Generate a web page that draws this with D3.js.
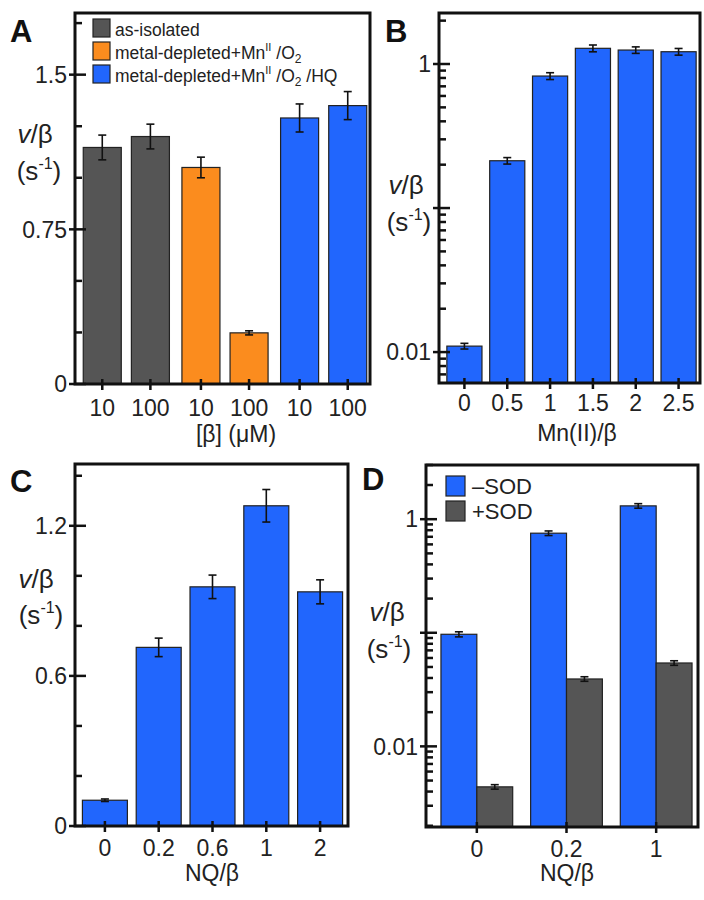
<!DOCTYPE html>
<html><head><meta charset="utf-8">
<script src="https://cdn.jsdelivr.net/npm/d3@7"></script>
<style>body{margin:0;background:#fff;} text{font-family:"Liberation Sans",Arial,Helvetica,sans-serif;fill:#222;}</style>
</head><body><svg id="c" width="704" height="900"></svg>
<script>
// ---------- DATA ----------
const colorGray = "#555555", colorOrange = "#fb8c1e", colorBlue = "#2166fd";

const panelA_groups = ["as-isolated", "metal-depleted+MnII/O2", "metal-depleted+MnII/O2/HQ"];
const panelA_colors = [colorGray, colorOrange, colorBlue];
const panelA_conc = ["10", "100"];
const panelA_values = [[1.147, 1.20], [1.05, 0.248], [1.29, 1.35]];
const panelA_errors = [[0.06, 0.06], [0.05, 0.01], [0.068, 0.068]];
const panelA_majorTicks = [0, 0.75, 1.5];
const panelA_tickLabels = ["0", "0.75", "1.5"];
const panelA_minorTicks = [0.25, 0.5, 1.0, 1.25, 1.75];

const panelB_categories = ["0", "0.5", "1", "1.5", "2", "2.5"];
const panelB_values = [0.011, 0.213, 0.825, 1.285, 1.25, 1.217];
const panelB_errors = [0.0005, 0.011, 0.045, 0.07, 0.065, 0.065];
const panelB_majorTicks = [0.01, 0.1, 1];
const panelB_tickLabels = ["0.01", "", "1"];

const panelC_categories = ["0", "0.2", "0.6", "1", "2"];
const panelC_values = [0.103, 0.714, 0.956, 1.28, 0.936];
const panelC_errors = [0.005, 0.037, 0.047, 0.065, 0.048];
const panelC_majorTicks = [0, 0.6, 1.2];
const panelC_tickLabels = ["0", "0.6", "1.2"];
const panelC_minorTicks = [0.2, 0.4, 0.8, 1.0, 1.4];

const panelD_categories = ["0", "0.2", "1"];
const panelD_series = ["\u2013SOD", "+SOD"];
const panelD_seriesColors = [colorBlue, colorGray];
const panelD_minusSOD = [0.097, 0.753, 1.31];
const panelD_minusSOD_err = [0.005, 0.035, 0.06];
const panelD_plusSOD = [0.0044, 0.0392, 0.0542];
const panelD_plusSOD_err = [0.0002, 0.0018, 0.0025];
const panelD_majorTicks = [0.01, 0.1, 1];
const panelD_tickLabels = ["0.01", "", "1"];

// ---------- HELPERS ----------
const svg = d3.select("#c");
const TICK_FS = "23px";

function logMinor(domain) {
  const out = [];
  const k0 = Math.floor(Math.log10(domain[0])), k1 = Math.ceil(Math.log10(domain[1]));
  for (let k = k0; k <= k1; k++) for (let m = 2; m <= 9; m++) {
    const v = m * Math.pow(10, k);
    if (v >= domain[0] && v <= domain[1]) out.push(v);
  }
  return out;
}

function yAxis(g, y, x0, majors, labels, minors) {
  majors.forEach((v, i) => {
    g.append("line").attr("x1", x0 - 6).attr("x2", x0 + 11).attr("y1", y(v)).attr("y2", y(v))
      .attr("stroke", "#111").attr("stroke-width", 2.5);
    if (labels[i]) g.append("text").attr("x", x0 - 8).attr("y", y(v)).attr("dy", "0.36em")
      .attr("text-anchor", "end").style("font-size", TICK_FS).text(labels[i]);
  });
  minors.forEach(v => {
    g.append("line").attr("x1", x0).attr("x2", x0 + 7).attr("y1", y(v)).attr("y2", y(v))
      .attr("stroke", "#111").attr("stroke-width", 2.5);
  });
}

function xTicks(g, xs, labels, yb, labelY) {
  xs.forEach((cx, i) => {
    g.append("line").attr("x1", cx).attr("x2", cx).attr("y1", yb - 5).attr("y2", yb + 6)
      .attr("stroke", "#111").attr("stroke-width", 2.5);
    g.append("text").attr("x", cx).attr("y", labelY).attr("text-anchor", "middle")
      .style("font-size", TICK_FS).text(labels[i]);
  });
}

function frame(g, x0, y0, x1, y1) {
  g.append("rect").attr("x", x0).attr("y", y0).attr("width", x1 - x0).attr("height", y1 - y0)
    .attr("fill", "none").attr("stroke", "#111").attr("stroke-width", 3);
}

function bar(g, x, w, yTop, yBot, color) {
  g.append("rect").attr("x", x).attr("y", yTop).attr("width", w).attr("height", yBot - yTop)
    .attr("fill", color).attr("stroke", "#222").attr("stroke-width", 1.2);
}

function errBar(g, cx, yHi, yLo) {
  g.append("line").attr("x1", cx).attr("x2", cx).attr("y1", yHi).attr("y2", yLo)
    .attr("stroke", "#111").attr("stroke-width", 1.6);
  [yHi, yLo].forEach(yy => g.append("line").attr("x1", cx - 4).attr("x2", cx + 4)
    .attr("y1", yy).attr("y2", yy).attr("stroke", "#111").attr("stroke-width", 1.6));
}

function yLabel(g, cx1, b1, cx2, b2) {
  const t1 = g.append("text").attr("x", cx1).attr("y", b1).attr("text-anchor", "middle").style("font-size", "26px");
  t1.append("tspan").attr("font-style", "italic").text("v");
  t1.append("tspan").text("/\u03b2");
  const t2 = g.append("text").attr("x", cx2).attr("y", b2).attr("text-anchor", "middle").style("font-size", "26px");
  t2.append("tspan").text("(s");
  t2.append("tspan").attr("dy", -11).style("font-size", "16px").text("-1");
  t2.append("tspan").attr("dy", 11).text(")");
}

function panelLetter(x, y, s) {
  svg.append("text").attr("x", x).attr("y", y).style("font-size", "31px").style("font-weight", "bold")
    .style("fill", "#111").text(s);
}

// ---------- PANEL A ----------
{
  const g = svg.append("g");
  const X0 = 75, X1 = 370, Y0 = 13, Y1 = 384;
  const y = d3.scaleLinear().domain([0, 1.8]).range([Y1, Y0 - 0.2]);
  const xg = d3.scaleBand().domain(d3.range(panelA_groups.length)).range([77, 373]);
  const xi = d3.scaleBand().domain(panelA_conc).range([0, xg.bandwidth()]).paddingInner(0.21).paddingOuter(0.13);
  const centers = [], labs = [];
  panelA_values.forEach((vals, gi) => {
    vals.forEach((v, j) => {
      const x = xg(gi) + xi(panelA_conc[j]);
      bar(g, x, xi.bandwidth(), y(v), y(0), panelA_colors[gi]);
      const e = panelA_errors[gi][j];
      errBar(g, x + xi.bandwidth() / 2, y(v + e), y(v - e));
      centers.push(x + xi.bandwidth() / 2); labs.push(panelA_conc[j]);
    });
  });
  frame(g, X0, Y0, X1, Y1);
  yAxis(g, y, X0, panelA_majorTicks, panelA_tickLabels, panelA_minorTicks);
  xTicks(g, centers, labs, Y1, 416);
  g.append("text").attr("x", 236).attr("y", 442).attr("text-anchor", "middle").style("font-size", TICK_FS).text("[\u03b2] (\u03bcM)");
  yLabel(g, 35, 143, 39, 180);
  // legend
  const ly = [19, 42, 65];
  panelA_groups.forEach((name, i) => {
    g.append("rect").attr("x", 93).attr("y", ly[i]).attr("width", 17).attr("height", 18)
      .attr("fill", panelA_colors[i]).attr("stroke", "#222").attr("stroke-width", 1.2);
    const t = g.append("text").attr("x", 115).attr("y", ly[i] + 17).style("font-size", "17.5px");
    if (i === 0) { t.text(name); }
    else {
      t.append("tspan").text("metal-depleted+Mn");
      t.append("tspan").attr("dy", -8).style("font-size", "11px").text("II");
      t.append("tspan").attr("dy", 8).text(" /O");
      t.append("tspan").attr("dy", 4).style("font-size", "12px").text("2");
      if (i === 2) t.append("tspan").attr("dy", -4).text(" /HQ");
    }
  });
}

// ---------- PANEL B ----------
{
  const g = svg.append("g");
  const X0 = 439, X1 = 700, Y0 = 13, Y1 = 383;
  const dom = [0.0061, 2.26];
  const y = d3.scaleLog().domain(dom).range([Y1, Y0]);
  const x = d3.scaleBand().domain(panelB_categories).range([443, 700]).paddingInner(0.18).paddingOuter(0.09);
  panelB_values.forEach((v, i) => {
    const c = panelB_categories[i];
    bar(g, x(c), x.bandwidth(), y(v), Y1, colorBlue);
    errBar(g, x(c) + x.bandwidth() / 2, y(v + panelB_errors[i]), y(v - panelB_errors[i]));
  });
  frame(g, X0, Y0, X1, Y1);
  yAxis(g, y, X0, panelB_majorTicks, panelB_tickLabels, logMinor(dom));
  xTicks(g, panelB_categories.map(c => x(c) + x.bandwidth() / 2), panelB_categories, Y1, 411);
  g.append("text").attr("x", 577).attr("y", 441).attr("text-anchor", "middle").style("font-size", TICK_FS).text("Mn(II)/\u03b2");
  yLabel(g, 406, 194, 409, 231);
}

// ---------- PANEL C ----------
{
  const g = svg.append("g");
  const X0 = 75, X1 = 348, Y0 = 464, Y1 = 826;
  const y = d3.scaleLinear().domain([0, 1.447]).range([Y1, Y0]);
  const x = d3.scaleBand().domain(panelC_categories).range([78, 347]).paddingInner(0.164).paddingOuter(0.082);
  panelC_values.forEach((v, i) => {
    const c = panelC_categories[i];
    bar(g, x(c), x.bandwidth(), y(v), y(0), colorBlue);
    errBar(g, x(c) + x.bandwidth() / 2, y(v + panelC_errors[i]), y(v - panelC_errors[i]));
  });
  frame(g, X0, Y0, X1, Y1);
  yAxis(g, y, X0, panelC_majorTicks, panelC_tickLabels, panelC_minorTicks);
  xTicks(g, panelC_categories.map(c => x(c) + x.bandwidth() / 2), panelC_categories, Y1, 856);
  g.append("text").attr("x", 212).attr("y", 881).attr("text-anchor", "middle").style("font-size", TICK_FS).text("NQ/\u03b2");
  yLabel(g, 36, 588, 41, 624);
}

// ---------- PANEL D ----------
{
  const g = svg.append("g");
  const X0 = 426, X1 = 698, Y0 = 465, Y1 = 827;
  const dom = [0.00195, 3.0];
  const y = d3.scaleLog().domain(dom).range([Y1, Y0]);
  const xg = d3.scaleBand().domain(panelD_categories).range([432, 701]).paddingInner(0.2).paddingOuter(0.1);
  const xi = d3.scaleBand().domain(panelD_series).range([0, xg.bandwidth()]);
  const seriesVals = [panelD_minusSOD, panelD_plusSOD];
  const seriesErr = [panelD_minusSOD_err, panelD_plusSOD_err];
  panelD_categories.forEach((c, i) => {
    panelD_series.forEach((s, j) => {
      const v = seriesVals[j][i], e = seriesErr[j][i];
      const xx = xg(c) + xi(s);
      bar(g, xx, xi.bandwidth(), y(v), Y1, panelD_seriesColors[j]);
      errBar(g, xx + xi.bandwidth() / 2, y(v + e), y(v - e));
    });
  });
  frame(g, X0, Y0, X1, Y1);
  yAxis(g, y, X0, panelD_majorTicks, panelD_tickLabels, logMinor(dom));
  xTicks(g, panelD_categories.map(c => xg(c) + xg.bandwidth() / 2), panelD_categories, Y1, 857);
  g.append("text").attr("x", 567).attr("y", 881).attr("text-anchor", "middle").style("font-size", TICK_FS).text("NQ/\u03b2");
  yLabel(g, 387, 621, 389, 658);
  // legend
  panelD_series.forEach((s, i) => {
    g.append("rect").attr("x", 446).attr("y", 476 + i * 25).attr("width", 19).attr("height", 20)
      .attr("fill", panelD_seriesColors[i]).attr("stroke", "#222").attr("stroke-width", 1.2);
    g.append("text").attr("x", 472).attr("y", 494 + i * 25).style("font-size", "22px").text(s);
  });
}

panelLetter(10, 42, "A");
panelLetter(385, 42, "B");
panelLetter(10, 492, "C");
panelLetter(362, 490, "D");
</script></body></html>
